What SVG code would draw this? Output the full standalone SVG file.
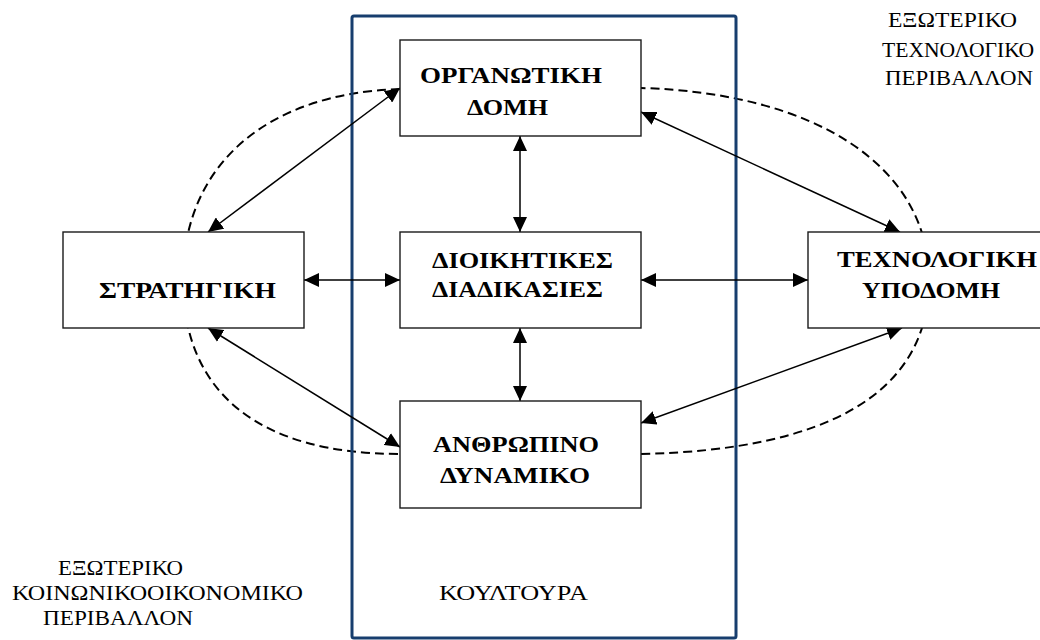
<svg xmlns="http://www.w3.org/2000/svg" width="1040" height="640" viewBox="0 0 1040 640">
  <defs>
    <marker id="head" markerUnits="userSpaceOnUse" markerWidth="16" markerHeight="14" refX="15" refY="7" orient="auto-start-reverse">
      <path d="M0,0 L15,7 L0,14 z" fill="#000"/>
    </marker>
    <style>
      .box { fill: #fff; stroke: #1a1a1a; stroke-width: 1.4; }
      .lbl { font-family: "Liberation Serif", "Liberation Sans", "DejaVu Sans", sans-serif; font-weight: bold; font-size: 24px; fill: #000; }
      .note { font-family: "Liberation Serif", "Liberation Sans", "DejaVu Sans", sans-serif; font-size: 21px; fill: #000; }
      .link { fill: none; stroke: #000; stroke-width: 1.5; marker-start: url(#head); marker-end: url(#head); }
      .env { fill: none; stroke: #000; stroke-width: 2; stroke-dasharray: 9 5; }
      .frame { fill: none; stroke: #173e6e; stroke-width: 3; }
    </style>
  </defs>
  <rect width="1040" height="640" fill="#fff"/>

  <!-- environment boundary (dashed) -->
  <path class="env" d="M 400 89 C 270 93, 183 162, 183 280 C 183 393, 259 454, 400 454 L 641 454 C 828 450, 929 393, 929 280 C 929 165, 814 93, 641 88 Z"/>

  <!-- culture frame -->
  <rect id="culture" class="frame" x="352" y="16" width="384" height="622" rx="2"/>

  <!-- connectors -->
  <g id="connectors">
    <line class="link" x1="208" y1="232" x2="400" y2="88"/>
    <line class="link" x1="208" y1="328" x2="400" y2="447"/>
    <line class="link" x1="641" y1="112" x2="900" y2="232"/>
    <line class="link" x1="902" y1="328" x2="641" y2="423"/>
    <line class="link" x1="520" y1="136" x2="520" y2="232"/>
    <line class="link" x1="520" y1="328" x2="520" y2="401"/>
    <line class="link" x1="304" y1="280" x2="400" y2="280"/>
    <line class="link" x1="641" y1="280" x2="808" y2="280"/>
  </g>

  <g id="structure">
    <rect class="box" x="400" y="40" width="241" height="96"/>
    <text class="lbl" x="420" y="83" textLength="182" lengthAdjust="spacingAndGlyphs">ΟΡΓΑΝΩΤΙΚΗ</text>
    <text class="lbl" x="467" y="115" textLength="81" lengthAdjust="spacingAndGlyphs">ΔΟΜΗ</text>
  </g>

  <g id="strategy">
    <rect class="box" x="63" y="232" width="241" height="96"/>
    <text class="lbl" x="99" y="298" textLength="177" lengthAdjust="spacingAndGlyphs">ΣΤΡΑΤΗΓΙΚΗ</text>
  </g>

  <g id="processes">
    <rect class="box" x="400" y="232" width="241" height="96"/>
    <text class="lbl" x="432" y="268" textLength="181" lengthAdjust="spacingAndGlyphs">ΔΙΟΙΚΗΤΙΚΕΣ</text>
    <text class="lbl" x="432" y="297" textLength="171" lengthAdjust="spacingAndGlyphs">ΔΙΑΔΙΚΑΣΙΕΣ</text>
  </g>

  <g id="technology">
    <rect class="box" x="808" y="232" width="246" height="96"/>
    <text class="lbl" x="837" y="267" textLength="200" lengthAdjust="spacingAndGlyphs">ΤΕΧΝΟΛΟΓΙΚΗ</text>
    <text class="lbl" x="862" y="298" textLength="138" lengthAdjust="spacingAndGlyphs">ΥΠΟΔΟΜΗ</text>
  </g>

  <g id="people">
    <rect class="box" x="400" y="401" width="241" height="107"/>
    <text class="lbl" x="433" y="452" textLength="166" lengthAdjust="spacingAndGlyphs">ΑΝΘΡΩΠΙΝΟ</text>
    <text class="lbl" x="440" y="483" textLength="150" lengthAdjust="spacingAndGlyphs">ΔΥΝΑΜΙΚΟ</text>
  </g>

  <!-- free labels -->
  <g id="labels">
    <text class="note" x="439" y="600" textLength="149" lengthAdjust="spacingAndGlyphs">ΚΟΥΛΤΟΥΡΑ</text>
    <text class="note" x="888" y="27" textLength="129" lengthAdjust="spacingAndGlyphs">ΕΞΩΤΕΡΙΚΟ</text>
    <text class="note" x="882" y="57" textLength="152" lengthAdjust="spacingAndGlyphs">ΤΕΧΝΟΛΟΓΙΚΟ</text>
    <text class="note" x="885" y="85" textLength="148" lengthAdjust="spacingAndGlyphs">ΠΕΡΙΒΑΛΛΟΝ</text>
    <text class="note" x="58" y="575" textLength="125" lengthAdjust="spacingAndGlyphs">ΕΞΩΤΕΡΙΚΟ</text>
    <text class="note" x="12" y="600" textLength="291" lengthAdjust="spacingAndGlyphs">ΚΟΙΝΩΝΙΚΟΟΙΚΟΝΟΜΙΚΟ</text>
    <text class="note" x="43" y="625" textLength="150" lengthAdjust="spacingAndGlyphs">ΠΕΡΙΒΑΛΛΟΝ</text>
  </g>
</svg>
